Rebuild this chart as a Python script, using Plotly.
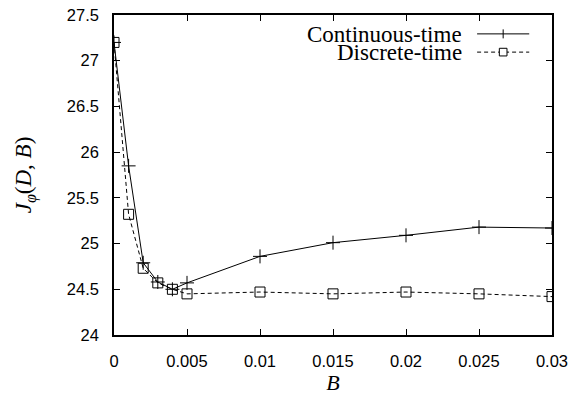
import plotly.graph_objects as go

B = [0, 0.001, 0.002, 0.003, 0.004, 0.005, 0.01, 0.015, 0.02, 0.025, 0.03]
continuous = [27.2, 25.85, 24.79, 24.58, 24.50, 24.57, 24.86, 25.01, 25.09, 25.18, 25.17]
discrete = [27.2, 25.32, 24.73, 24.57, 24.50, 24.45, 24.47, 24.45, 24.47, 24.45, 24.42]

x_ticks = [0, 0.005, 0.01, 0.015, 0.02, 0.025, 0.03]
x_labels = ["0", "0.005", "0.01", "0.015", "0.02", "0.025", "0.03"]
y_ticks = [24, 24.5, 25, 25.5, 26, 26.5, 27, 27.5]
y_labels = ["24", "24.5", "25", "25.5", "26", "26.5", "27", "27.5"]
names = ["Continuous-time", "Discrete-time"]

fig = go.Figure()
fig.add_trace(go.Scatter(
    x=B, y=continuous, mode="lines+markers", name=names[0],
    line=dict(color="black", width=1),
    marker=dict(symbol="cross-thin", size=10, line=dict(color="black", width=1)),
))
fig.add_trace(go.Scatter(
    x=B, y=discrete, mode="lines+markers", name=names[1],
    line=dict(color="black", width=1, dash="4px,3px"),
    marker=dict(symbol="square-open", size=10, color="black", line=dict(width=1)),
))

axis_common = dict(
    showline=True, linecolor="black", linewidth=1.5, mirror="allticks",
    ticks="inside", ticklen=6, tickcolor="black", tickwidth=1,
    showgrid=False, zeroline=False, ticklabeloverflow="allow", automargin=False,
    tickfont=dict(family="Liberation Sans, Arial, sans-serif", size=16.5, color="black"),
)

fig.update_xaxes(
    range=[0, 0.03], tickvals=x_ticks, ticktext=x_labels,
    title=dict(text="<i>B</i>", font=dict(family="Liberation Serif, serif", size=22, color="black"), standoff=15),
    ticklabelstandoff=10,
    **axis_common,
)
fig.update_yaxes(
    range=[24, 27.5], tickvals=y_ticks, ticktext=y_labels,
    title=dict(text="<i>J</i><sub><i>φ</i></sub>(<i>D</i>, <i>B</i>)",
               font=dict(family="Liberation Serif, serif", size=23, color="black"), standoff=29),
    ticklabelstandoff=10,
    **axis_common,
)

# custom legend (text right-aligned, sample to the right)
legend_font = dict(family="Liberation Serif, Times New Roman, serif", size=23, color="black")
rows = [0.941, 0.884]
for name, yy in zip(names, rows):
    fig.add_annotation(xref="paper", yref="paper", x=0.80, y=yy, text=name, height=18,
                       showarrow=False, xanchor="right", yanchor="middle", font=legend_font)
fig.add_shape(type="line", xref="paper", yref="paper", x0=0.829, x1=0.948, y0=rows[0], y1=rows[0],
              line=dict(color="black", width=1))
fig.add_shape(type="line", xref="paper", yref="paper", x0=0.829, x1=0.948, y0=rows[1], y1=rows[1],
              line=dict(color="black", width=1, dash="4px,3px"))
# marker glyphs
cx = 0.8885
dx = 4.5 / 438
dy = 4.5 / 320
fig.add_shape(type="line", xref="paper", yref="paper", x0=cx, x1=cx, y0=rows[0] - dy, y1=rows[0] + dy,
              line=dict(color="black", width=1))
fig.add_shape(type="rect", xref="paper", yref="paper", x0=cx - dx * 0.85, x1=cx + dx * 0.85,
              y0=rows[1] - dy * 0.85, y1=rows[1] + dy * 0.85, fillcolor="white",
              line=dict(color="black", width=1))

fig.update_layout(
    width=572, height=395,
    margin=dict(l=114, r=20, t=15, b=60),
    plot_bgcolor="white", paper_bgcolor="white",
    showlegend=False,
)

fig.write_html("out.html", config={"displayModeBar": False},
               post_script="document.body.style.margin='0';")
